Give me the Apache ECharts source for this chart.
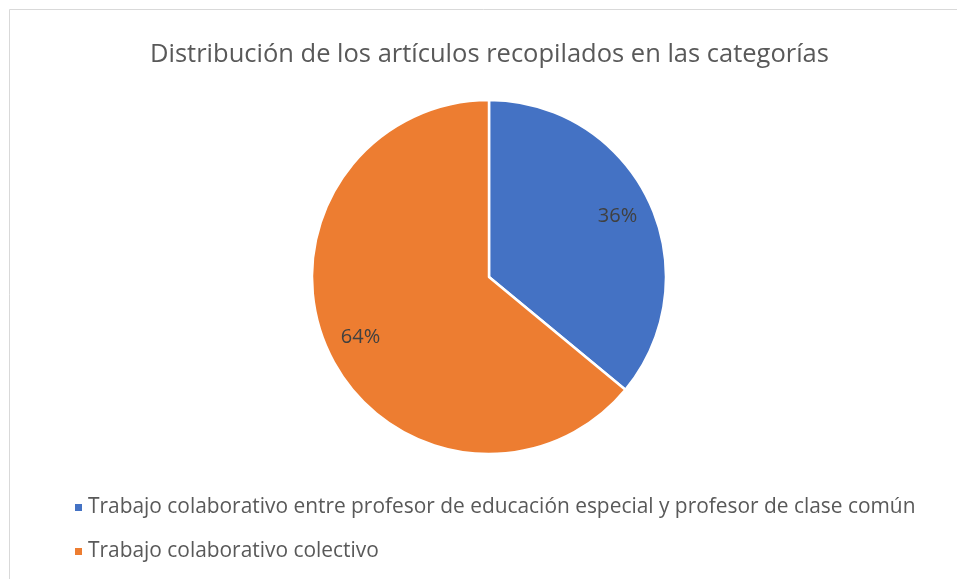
<!DOCTYPE html>
<html>
<head>
<meta charset="utf-8">
<script src="https://cdn.jsdelivr.net/npm/echarts@6/dist/echarts.min.js"></script>
<style>html,body{margin:0;padding:0;background:#fff}#c{width:957px;height:579px}</style>
</head>
<body>
<div id="c"></div>
<script>
const title = "Distribución de los artículos recopilados en las categorías";
const categories = [
  "Trabajo colaborativo entre profesor de educación especial y profesor de clase común",
  "Trabajo colaborativo colectivo"
];
const values = [36, 64];
const colors = ["#4472C4", "#ED7D31"];

const font = "Open Sans";
const data = categories.map((c, i) => ({ name: c, value: values[i], itemStyle: { color: colors[i] } }));

const chart = echarts.init(document.getElementById('c'), null, { renderer: 'canvas' });
chart.setOption({
  animation: false,
  backgroundColor: '#ffffff',
  graphic: [{
    type: 'rect', silent: true,
    shape: { x: 9.5, y: 9.5, width: 1200, height: 1200 },
    style: { fill: 'none', stroke: '#d9d9d9', lineWidth: 1 }
  }],
  title: {
    text: title, left: 145, top: 37,
    textStyle: { fontFamily: font, fontSize: 25.5, fontWeight: 'normal', color: '#595959' }
  },
  legend: {
    orient: 'vertical', left: 68, top: 492, itemGap: 23,
    itemWidth: 9, itemHeight: 9, icon: 'rect',
    data: categories.map((c, i) => ({ name: c, itemStyle: { color: colors[i] } })),
    textStyle: { fontFamily: font, fontSize: 20.9, color: '#595959' }
  },
  series: [{
    type: 'pie', center: [489, 277], radius: [0, 177],
    startAngle: 90, clockwise: true,
    itemStyle: { borderColor: '#ffffff', borderWidth: 2.5 },
    label: { show: false }, labelLine: { show: false },
    emphasis: { disabled: true },
    data: data
  }, {
    type: 'pie', center: [489, 277], radius: [101, 177],
    startAngle: 90, clockwise: true, silent: true,
    itemStyle: { color: 'transparent', borderWidth: 0 },
    label: { show: true, position: 'inside', formatter: '{d}%', fontFamily: font, fontSize: 20, color: '#404040' },
    labelLine: { show: false },
    emphasis: { disabled: true },
    data: categories.map((c, i) => ({ name: c, value: values[i], itemStyle: { color: 'transparent' } }))
  }]
});
</script>
</body>
</html>
